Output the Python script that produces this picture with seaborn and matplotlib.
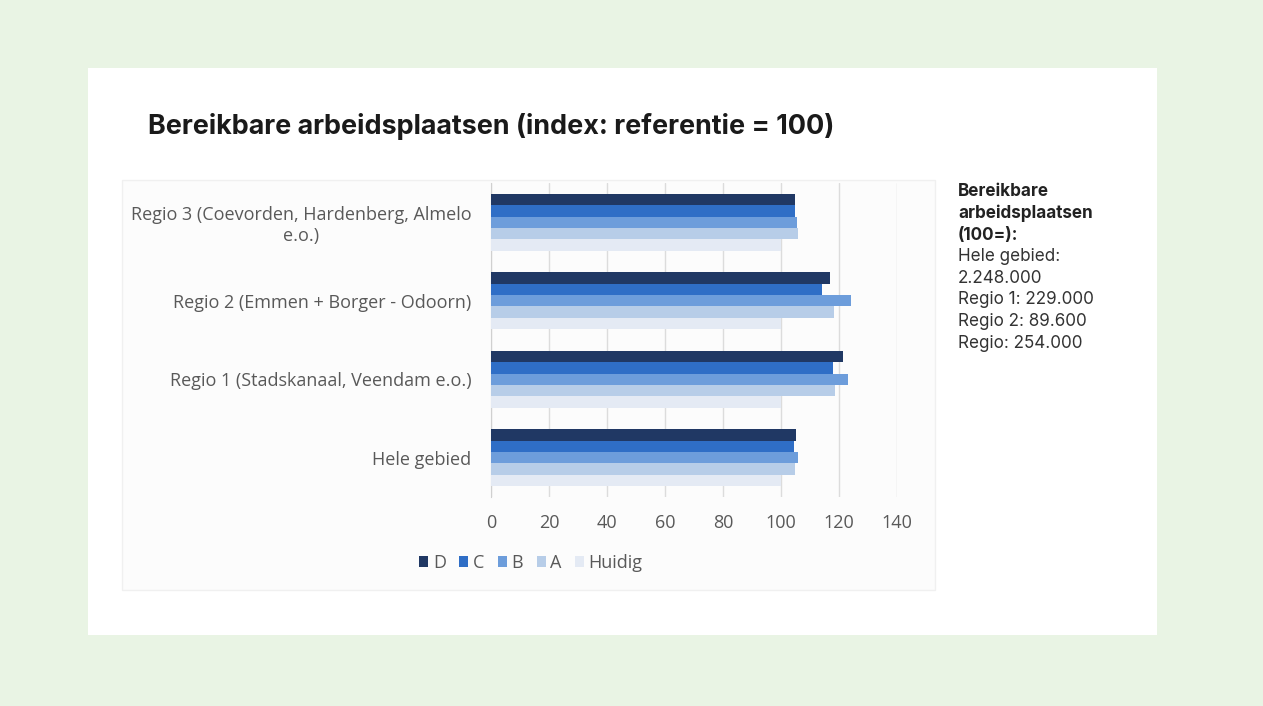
import numpy as np
import pandas as pd
import seaborn as sns
import matplotlib.pyplot as plt
from matplotlib.patches import Rectangle

sns.set_style('white')
plt.rcParams['font.family'] = ['Open Sans', 'DejaVu Sans']

# Data
regios = ['Regio 3 (Coevorden, Hardenberg, Almelo\ne.o.)',
          'Regio 2 (Emmen + Borger - Odoorn)',
          'Regio 1 (Stadskanaal, Veendam e.o.)',
          'Hele gebied']
scenarios = ['D', 'C', 'B', 'A', 'Huidig']
D = [104.8, 116.9, 121.5, 105.2]
C = [105.0, 114.0, 117.8, 104.5]
B = [105.4, 124.0, 123.2, 106.0]
A = [106.0, 118.3, 118.6, 105.0]
Huidig = [100, 100, 100, 100]
colors = ['#203864', '#2f6ec6', '#6d9ddb', '#b7cde8', '#e4eaf4']

side_bold = ['Bereikbare', 'arbeidsplaatsen', '(100=):']
side_text = ['Hele gebied:', '2.248.000', 'Regio 1: 229.000', 'Regio 2: 89.600', 'Regio: 254.000']

df = pd.DataFrame({'regio': regios * 5,
                   'scenario': np.repeat(scenarios, len(regios)),
                   'waarde': D + C + B + A + Huidig})

W, H = 1263, 706
fig = plt.figure(figsize=(W / 100, H / 100), dpi=100, facecolor='#e9f4e4')

# white card and chart frame
fig.patches.append(Rectangle((88 / W, 1 - 635 / H), (1157 - 88) / W, (635 - 68) / H,
                             transform=fig.transFigure, facecolor='white', edgecolor='none', zorder=-2))
fig.patches.append(Rectangle((122 / W, 1 - 590 / H), (935 - 122) / W, (590 - 180) / H,
                             transform=fig.transFigure, facecolor='#fcfcfc', edgecolor='#f0f0f0',
                             linewidth=1, zorder=-1))

ax = fig.add_axes([491 / W, 1 - 497 / H, (897 - 491) / W, (497 - 183) / H])
ax.set_facecolor('none')
sns.barplot(data=df, y='regio', x='waarde', hue='scenario', hue_order=scenarios,
            order=regios, orient='h', palette=colors, saturation=1, width=0.73,
            linewidth=0, ax=ax, zorder=3)

ax.set_xlim(0, 140)
ax.set_xticks(range(0, 141, 20))
ax.xaxis.grid(True, color='#dcdcdc', linewidth=1, zorder=0)
ax.set_axisbelow(True)
for s in ['top', 'right', 'bottom']:
    ax.spines[s].set_visible(False)
ax.spines['left'].set_color('#d0d0d0')
ax.set_xlabel('')
ax.set_ylabel('')
ax.tick_params(axis='both', length=0, labelsize=13, labelcolor='#595959')
ax.tick_params(axis='x', pad=12)
ax.tick_params(axis='y', pad=14)
for lbl in ax.get_yticklabels():
    lbl.set_multialignment('center')

sns.move_legend(ax, 'center', bbox_to_anchor=(531 / W, 1 - 563 / H),
                bbox_transform=fig.transFigure, ncol=5, frameon=False, title=None,
                handlelength=0.5, handleheight=0.5, handletextpad=0.25,
                columnspacing=0.75, fontsize=13, labelcolor='#595959')

fig.text(148 / W, 1 - 127 / H, 'Bereikbare arbeidsplaatsen (index: referentie = 100)',
         fontsize=19.4, fontweight='bold', color='#1a1a1a', va='center', family=['Inter', 'DejaVu Sans'])

for i, line in enumerate(side_bold + side_text):
    fig.text(958 / W, 1 - (192 + i * 21.6) / H, line, fontsize=12.3,
             fontweight='bold' if line in side_bold else 'normal',
             color='#222222' if line in side_bold else '#333333', va='center',
             family=['Inter', 'DejaVu Sans'])

fig.savefig('out.png', dpi=100, facecolor=fig.get_facecolor())
